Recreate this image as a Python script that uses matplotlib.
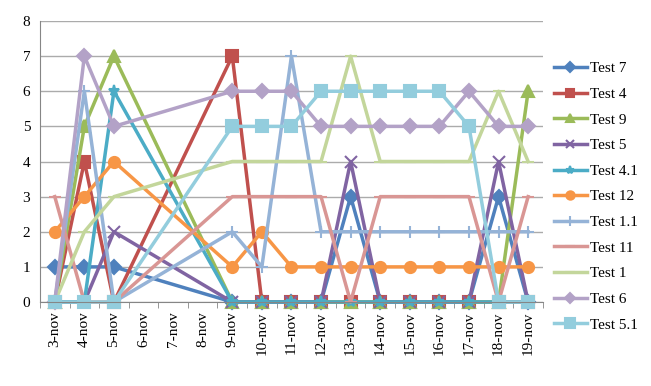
import numpy as np
import matplotlib
matplotlib.use("Agg")
import matplotlib.pyplot as plt

plt.rcParams['font.family'] = ['Liberation Serif', 'DejaVu Serif']

# days of november with measurements
days = [3, 4, 5, 9, 10, 11, 12, 13, 14, 15, 16, 17, 18, 19]
all_days = list(range(3, 20))
day_labels = [f"{d}-nov" for d in all_days]

test7 = [1, 1, 1, 0, 0, 0, 0, 3, 0, 0, 0, 0, 3, 0]
test4 = [0, 4, 0, 7, 0, 0, 0, 0, 0, 0, 0, 0, 0, 0]
test9 = [0, 5, 7, 0, 0, 0, 0, 0, 0, 0, 0, 0, 0, 6]
test5 = [0, 0, 2, 0, 0, 0, 0, 4, 0, 0, 0, 0, 4, 0]
test4_1 = [0, 0, 6, 0, 0, 0, 0, 0, 0, 0, 0, 0, 0, 0]
test12 = [2, 3, 4, 1, 2, 1, 1, 1, 1, 1, 1, 1, 1, 1]
test1_1 = [0, 6, 0, 2, 1, 7, 2, 2, 2, 2, 2, 2, 2, 2]
test11 = [3, 0, 0, 3, 3, 3, 3, 0, 3, 3, 3, 3, 0, 3]
test1 = [0, 2, 3, 4, 4, 4, 4, 7, 4, 4, 4, 4, 6, 4]
test6 = [0, 7, 5, 6, 6, 6, 5, 5, 5, 5, 5, 6, 5, 5]
test5_1 = [0, 0, 0, 5, 5, 5, 6, 6, 6, 6, 6, 5, 0, 0]

series = [
    ("Test 7", test7, "#4F81BD", "D", 7),
    ("Test 4", test4, "#C0504D", "s", 8),
    ("Test 9", test9, "#9BBB59", "^", 8),
    ("Test 5", test5, "#8064A2", "x", 8),
    ("Test 4.1", test4_1, "#4BACC6", "*", 8),
    ("Test 12", test12, "#F79646", "o", 8),
    ("Test 1.1", test1_1, "#95B3D7", "+", 9),
    ("Test 11", test11, "#D99694", "_", 9),
    ("Test 1", test1, "#C3D69B", "_", 9),
    ("Test 6", test6, "#B3A2C7", "D", 7),
    ("Test 5.1", test5_1, "#93CDDD", "s", 9),
]

fig = plt.figure(figsize=(6.51, 3.86), dpi=100)
ax = fig.add_axes([0.0614, 0.2176, 0.7726, 0.728])

for name, vals, col, mk, ms in series:
    ax.plot(days, vals, color=col, marker=mk, markersize=ms, linewidth=2.5,
            markeredgecolor=col, markeredgewidth=1.5, label=name, clip_on=False)

ax.set_xlim(2.5, 19.5)
ax.set_ylim(0, 8)
ax.set_yticks(range(0, 9))
ax.set_xticks(all_days)
ax.set_xticklabels(day_labels, rotation=90)
ax.set_xticks(np.arange(2.5, 20, 1), minor=True)
ax.tick_params(axis='x', which='major', length=0, pad=7, labelsize=11)
ax.tick_params(axis='x', which='minor', length=4, color='#868686')
ax.tick_params(axis='y', length=0, labelsize=11, pad=7)

ax.grid(axis='y', color='#ABABAB', linewidth=1)
ax.set_axisbelow(True)
for s in ['top', 'right']:
    ax.spines[s].set_visible(False)
ax.spines['left'].set_color('#868686')
ax.spines['bottom'].set_color('#868686')

ax.legend(loc='center left', bbox_to_anchor=(1.0, 0.375), frameon=False,
          fontsize=11, handlelength=2.2, handletextpad=0.15, labelspacing=0.78,
          markerscale=0.75, borderaxespad=0.3)

plt.savefig("out.png", dpi=100)
